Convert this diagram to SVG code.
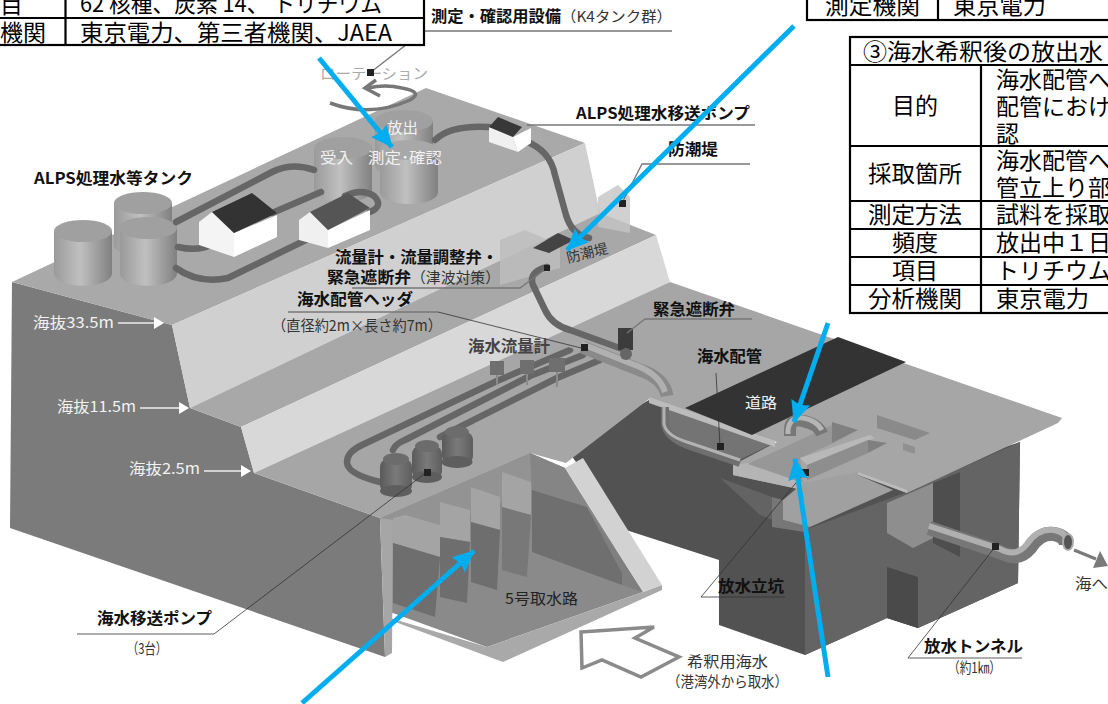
<svg xmlns="http://www.w3.org/2000/svg" width="1108" height="704" viewBox="0 0 1108 704">
<style>
text{font-family:"Noto Sans CJK JP","Noto Sans",sans-serif;fill:#111}
.b{font-size:16px;font-weight:700}
.r{font-size:15px;fill:#333}
.w{font-size:15px;fill:#f2f2f2}
.t{font-size:23px;fill:#000}
.m{text-anchor:middle}
.ln{stroke:#777;stroke-width:1.3;fill:none}
.ld{stroke:#333;stroke-width:.8;fill:none}
.wa{stroke:#eee;stroke-width:1.5;fill:none}
.tb{stroke:#000;stroke-width:2.2;fill:#fff}
.tl{stroke:#000;stroke-width:2.2;fill:none}
.pp{fill:none;stroke:#666;stroke-width:6.5;stroke-linecap:round;stroke-linejoin:round}
.big{fill:none;stroke:#777;stroke-width:14;stroke-linecap:butt}
.bigi{fill:none;stroke:#b0b0b0;stroke-width:6;stroke-linecap:butt}
.blue{stroke:#00aeef;stroke-width:5;fill:none}
.sq{fill:#222}
</style>
<defs>
<linearGradient id="cyl"><stop offset="0" stop-color="#9a9a9a"/><stop offset=".45" stop-color="#c0c0c0"/><stop offset="1" stop-color="#808080"/></linearGradient>
<linearGradient id="pump"><stop offset="0" stop-color="#5a5a5a"/><stop offset=".5" stop-color="#7a7a7a"/><stop offset="1" stop-color="#5e5e5e"/></linearGradient>
<marker id="ah" markerUnits="userSpaceOnUse" markerWidth="24" markerHeight="24" refX="21" refY="10" orient="auto"><path d="M0 0L22 10L0 20L3 10Z" fill="#00aeef"/></marker>
<marker id="wh" markerUnits="userSpaceOnUse" markerWidth="12" markerHeight="14" refX="9" refY="6" orient="auto"><path d="M0 0L10 6L0 12Z" fill="#fff"/></marker>
</defs>

<g id="shaft-block">
<polygon points="565,447 649,400 777,445 900,480 1020,442 1018,583 918,628 887,618 805,655 719,625 719,560 626,530" fill="#525252"/>
<polygon points="805,530 907,492 1020,442 1018,583 918,628 887,618 805,655" fill="#646464"/>
<polygon points="720,478 772,497 772,527 810,530 805,532 760,515" fill="#636363"/>
<polygon points="772,497 783,500 783,520 810,527 805,532 772,527" fill="#777"/>
<polygon points="665,405 770,445 735,462 668,435" fill="#747474"/>
</g>

<g id="terrain">
<polygon points="12,282 172,325 190,408 241,427 254,473 380,518 385,657 10,528" fill="#7b7b7b"/>
<polygon points="12,282 426,88 585,143 172,325" fill="#a9a9a9"/>
<polygon points="172,325 585,143 600,213 190,408" fill="#d0d0d0"/>
<polygon points="190,408 600,213 656,235 241,427" fill="#a8a8a8"/>
<polygon points="241,427 656,235 670,282 254,473" fill="#d8d8d8"/>
<polygon points="254,473 670,282 1062,418 1058,423 907,493 858,474 803,490 733,475 733,465 777,442 649,399 566,463 530,453 380,518" fill="#a6a6a6"/>
<polygon points="649,397 775,441 775,447 649,403" fill="#bcbcbc"/>
<polygon points="598,197 618,185 630,197 630,233 598,227" fill="#c4c4c4" opacity=".8"/>
<polygon points="500,240 525,230 560,245 560,268 500,285" fill="#bdbdbd" opacity=".85"/>
</g>

<g id="intake">
<polygon points="380,518 530,453 565,468 643,592 487,647 390,612" fill="#8a8a8a"/>
<polygon points="380,518 530,453 532,490 393,545" fill="#939393"/>
<polygon points="530,453 565,468 587,507 532,490" fill="#858585"/>
<polygon points="532,490 587,507 622,573 622,585 532,552" fill="#6f6f6f"/>
<polygon points="587,507 643,592 622,585 622,573" fill="#7f7f7f"/>
<polygon points="390,618 487,647 643,592 662,585 662,590 503,662 390,620" fill="#a9a9a9"/>
<polygon points="380,518 393,520 392,653 385,657" fill="#a6a6a6"/>
<polygon points="565,468 583,458 662,585 643,592" fill="#d2d2d2"/>
<polygon points="393,518 405,515 440,525 440,557 393,543" fill="#a4a4a4"/>
<polygon points="393,543 440,557 435,617 393,603" fill="#6e6e6e"/>
<polygon points="440,502 470,510 470,542 440,537" fill="#a4a4a4"/>
<polygon points="440,537 470,542 467,603 440,597" fill="#6e6e6e"/>
<polygon points="471,487 500,497 500,530 471,522" fill="#a4a4a4"/>
<polygon points="471,522 500,530 497,590 471,582" fill="#6e6e6e"/>
<polygon points="502,472 531,482 531,515 502,507" fill="#a4a4a4"/>
<polygon points="502,507 531,515 527,577 502,570" fill="#787878"/>
<text x="505" y="604" style="font-size:15px;fill:#222" textLength="73" lengthAdjust="spacingAndGlyphs">5号取水路</text>
</g>

<g id="shaft">
<polygon points="685,408 838,337 906,362 752,435" fill="#333"/>
<polygon points="733,465 748,463 803,483 803,490 733,475" fill="#b4b4b4"/>
<polygon points="748,464 832,425 832,443 858,432 800,458 803,483" fill="#979797"/>
<polygon points="832,422 858,430 832,443" fill="#808080"/>
<polygon points="800,458 870,435 875,438 807,465" fill="#b8b8b8"/>
<polygon points="807,465 868,440 868,453 807,480" fill="#8e8e8e"/>
<polygon points="868,440 887,443 868,453" fill="#808080"/>
<polygon points="877,415 930,433 915,440 877,428" fill="#8a8a8a"/>
<polygon points="903,443 915,447 915,454 903,450" fill="#909090"/>
<polygon points="858,472 907,490 907,493 858,475" fill="#bcbcbc"/>
<polygon points="803,483 858,472 858,475 893,490 810,527 783,520 783,500" fill="#a0a0a0"/>
<polygon points="887,503 917,490 933,483 933,538 913,548 887,533" fill="#8e8e8e"/>
<polygon points="933,483 960,472 960,557 933,543" fill="#4e4e4e"/>
<polygon points="887,567 918,577 918,628 887,618" fill="#4a4a4a"/>
<text class="w" x="745" y="408" textLength="32" lengthAdjust="spacingAndGlyphs">道路</text>
</g>

<g id="tanks">
<path d="M54 231V273C54 290 112 290 112 273V231Z" fill="url(#cyl)"/><ellipse cx="83" cy="231" rx="29" ry="11" fill="#a0a0a0"/>
<path d="M114 203V245C114 260 172 260 172 245V203Z" fill="url(#cyl)"/><ellipse cx="143" cy="203" rx="29" ry="11" fill="#a0a0a0"/>
<path d="M120 228V273C120 290 177 290 177 273V228Z" fill="url(#cyl)"/><ellipse cx="148" cy="228" rx="29" ry="11" fill="#a0a0a0"/>
<path d="M375 121V165C375 180 433 180 433 165V121Z" fill="url(#cyl)"/><ellipse cx="404" cy="121" rx="29" ry="11" fill="#a0a0a0"/>
<path d="M314 148V190C314 206 372 206 372 190V148Z" fill="url(#cyl)"/><ellipse cx="343" cy="148" rx="29" ry="11" fill="#a0a0a0"/>
<path d="M380 150V192C380 208 438 208 438 192V150Z" fill="url(#cyl)"/><ellipse cx="409" cy="150" rx="29" ry="10" fill="#a8a8a8"/>
<text class="w" x="387" y="133" textLength="31" lengthAdjust="spacingAndGlyphs">放出</text>
<text class="w" x="320" y="163" textLength="33" lengthAdjust="spacingAndGlyphs">受入</text>
<text class="w" x="368" y="163" textLength="74" lengthAdjust="spacingAndGlyphs">測定･確認</text>
</g>

<g id="pipes-upper">
<path class="pp" d="M176 222L272 172Q292 162 314 170"/>
<path class="pp" d="M178 247Q200 252 214 243"/>
<path class="pp" d="M272 213L321 192"/>
<path class="pp" d="M176 268Q198 284 228 278L312 237"/>
<path class="pp" d="M345 196Q362 188 374 196Q384 206 370 212"/>
<path class="pp" d="M435 140Q450 125 489 127"/>
<path class="pp" d="M525 141Q550 150 555 175L566 215Q572 235 589 238"/>
<path class="pp" d="M547 267Q528 272 533 285L545 310Q552 325 570 330L625 350"/>
</g>

<g id="houses">
<polygon points="199,222 212,212 234,233 234,257 199,245" fill="#f4f4f4"/>
<polygon points="234,233 277,215 277,237 234,257" fill="#fff"/>
<polygon points="212,212 252,193 277,213 234,233" fill="#333"/>
<polygon points="299,220 310,212 328,230 328,248 299,240" fill="#f0f0f0"/>
<polygon points="328,230 370,210 370,230 328,248" fill="#fff"/>
<polygon points="310,212 348,193 370,208 328,230" fill="#555"/>
<polygon points="489,127 513,137 518,152 489,142" fill="#f0f0f0"/>
<polygon points="513,137 531,128 531,143 518,152" fill="#fff"/>
<polygon points="489,127 498,117 522,127 513,137" fill="#383838"/>
<polygon points="533,248 558,233 574,240 549,253" fill="#444"/>
</g>

<g id="pumps">
<path class="pp" d="M380 482Q347 474 347 462Q347 452 362 445L497 381L570 350"/>
<path class="pp" d="M393 450Q395 444 405 440L530 376L583 355"/>
<path class="pp" d="M440 437L557 378L600 360"/>
<path d="M497 375V385M527 373V385M557 372V387" stroke="#8a8a8a" stroke-width="2"/>
<rect x="380" y="459" width="32" height="34" rx="8" fill="url(#pump)"/><ellipse cx="396" cy="459" rx="13" ry="6" fill="#6c6c6c"/><ellipse cx="396" cy="491" rx="16" ry="6" fill="#5e5e5e"/>
<rect x="412" y="446" width="30" height="33" rx="8" fill="url(#pump)"/><ellipse cx="427" cy="446" rx="12" ry="6" fill="#6c6c6c"/><ellipse cx="427" cy="477" rx="15" ry="6" fill="#5e5e5e"/>
<rect x="442" y="432" width="31" height="32" rx="8" fill="url(#pump)"/><ellipse cx="457" cy="432" rx="12" ry="6" fill="#6c6c6c"/><ellipse cx="457" cy="462" rx="15.500" ry="6" fill="#5e5e5e"/>
<rect x="490" y="361" width="14" height="14" fill="#6f6f6f"/><rect x="520" y="360" width="14" height="14" fill="#6f6f6f"/><rect x="549" y="358" width="16" height="14" fill="#6f6f6f"/>
<polygon points="563,345 572,340 592,347 585,353" fill="#a8a8a8"/>
<path d="M582 347L640 370Q664 378 667 396" class="big" style="stroke:#8a8a8a;stroke-width:13"/>
<path d="M582 344L640 367Q660 376 665 392" class="bigi"/>
<rect x="618" y="328" width="15" height="22" fill="#3c3c3c"/><circle cx="626" cy="354" r="6" fill="#666"/>
</g>

<g id="pipes-lower">
<path d="M665 407V424Q667 438 690 446L740 463" fill="none" stroke="#6f6f6f" stroke-width="8"/>
<path d="M664 407V424Q666 436 690 443L740 460" fill="none" stroke="#b2b2b2" stroke-width="3"/>
<path d="M790 436V430Q790 418 803 421Q818 424 822 434" fill="none" stroke="#777" stroke-width="12"/>
<path d="M788 434V430Q790 416 803 418Q816 420 822 430" fill="none" stroke="#b5b5b5" stroke-width="5"/>
<path class="big" d="M929 528L1000 552Q1018 562 1030 548Q1040 532 1054 534Q1066 536 1066 545"/>
<path class="bigi" d="M929 526L1000 549Q1016 558 1027 544Q1038 528 1054 530Q1066 532 1067 541"/>
<ellipse cx="1068" cy="542" rx="5" ry="8" fill="#555" stroke="#aaa" stroke-width="2"/>
<path d="M1074 550L1096 559" stroke="#7a7a7a" stroke-width="3"/><polygon points="1108,566 1093,568 1100,551" fill="#7a7a7a"/>
</g>

<g id="rotation">
<path d="M330 103Q370 118 410 100Q424 92 402 88Q385 84 368 88" fill="none" stroke="#777" stroke-width="3.500"/>
<path d="M376 80L365 88L380 96" fill="none" stroke="#777" stroke-width="3.500"/>
<text x="320" y="79" style="font-size:15px;fill:#aaa" textLength="108" lengthAdjust="spacingAndGlyphs">ローテーション</text>
</g>

<g id="sea-arrow">
<polygon points="581,632 654,627 635,638 679,657 641,677 602,660 582,668" fill="#fff" stroke="#8a8a8a" stroke-width="3.500"/>
</g>

<g id="leaders">
<path class="ln" d="M672 31H424L371 72"/>
<path class="ln" d="M755 125H527"/>
<path class="ln" d="M750 164H642L622 203"/>
<path class="ln" d="M352 288H520L547 268"/>
<path class="ln" d="M288 312H438"/><path class="ld" d="M438 312L585 349"/>
<path class="ln" d="M752 319H645L627 333"/>
<path class="ld" d="M716 373L720 446"/>
<path class="ld" d="M701 597H785M701 597L805 472"/>
<path class="ld" d="M908 658H1022M908 658L995 547"/>
<path class="ld" d="M77 634H214L427 472"/>
<path class="wa" d="M118 323H163" marker-end="url(#wh)"/>
<path class="wa" d="M140 408H188" marker-end="url(#wh)"/>
<path class="wa" d="M204 471H250" marker-end="url(#wh)"/>
<rect class="sq" x="367" y="69" width="7" height="7"/><rect class="sq" x="619" y="200" width="7" height="7"/><rect class="sq" x="544" y="265" width="6" height="6"/><rect class="sq" x="581" y="344" width="7" height="7"/><rect class="sq" x="717" y="443" width="7" height="7"/><rect class="sq" x="802" y="469" width="7" height="7"/><rect class="sq" x="992" y="543" width="7" height="7"/><rect class="sq" x="424" y="469" width="7" height="7"/>
</g>

<g id="labels">
<text class="b" x="431" y="22" textLength="130" lengthAdjust="spacingAndGlyphs">測定・確認用設備</text><text class="r" x="561" y="22" textLength="111" lengthAdjust="spacingAndGlyphs">（K4タンク群）</text>
<text class="b" x="34" y="184" textLength="159" lengthAdjust="spacingAndGlyphs">ALPS処理水等タンク</text>
<text class="b" x="576" y="119" textLength="174" lengthAdjust="spacingAndGlyphs">ALPS処理水移送ポンプ</text>
<text class="b" x="668" y="155" textLength="50" lengthAdjust="spacingAndGlyphs">防潮堤</text>
<text class="b" x="335" y="263" textLength="163" lengthAdjust="spacingAndGlyphs">流量計・流量調整弁・</text>
<text class="b" x="327" y="283" textLength="84" lengthAdjust="spacingAndGlyphs">緊急遮断弁</text><text class="r" x="411" y="283" textLength="89" lengthAdjust="spacingAndGlyphs">（津波対策）</text>
<text class="b" x="297" y="305" textLength="116" lengthAdjust="spacingAndGlyphs">海水配管ヘッダ</text>
<text class="r" x="272" y="331" textLength="170" lengthAdjust="spacingAndGlyphs">（直径約2m×長さ約7m）</text>
<text class="b" x="468" y="352" textLength="82" style="fill:#444" lengthAdjust="spacingAndGlyphs">海水流量計</text>
<text class="b" x="653" y="315" textLength="82" lengthAdjust="spacingAndGlyphs">緊急遮断弁</text>
<text class="b" x="697" y="362" textLength="65" lengthAdjust="spacingAndGlyphs">海水配管</text>
<text x="0" y="0" transform="translate(568,263) rotate(-14)" style="font-size:14px;fill:#333" textLength="42" lengthAdjust="spacingAndGlyphs">防潮堤</text>
<text class="b" x="718" y="592" textLength="66" lengthAdjust="spacingAndGlyphs">放水立坑</text>
<text class="b" x="924" y="652" textLength="99" lengthAdjust="spacingAndGlyphs">放水トンネル</text>
<text class="r" x="948" y="673" textLength="53" lengthAdjust="spacingAndGlyphs">（約1㎞）</text>
<text class="b" x="97" y="624" textLength="115" lengthAdjust="spacingAndGlyphs">海水移送ポンプ</text>
<text class="r" x="127" y="654" textLength="40" lengthAdjust="spacingAndGlyphs">（3台）</text>
<text class="r" x="687" y="667" textLength="81" lengthAdjust="spacingAndGlyphs">希釈用海水</text>
<text class="r" x="667" y="687" textLength="121" lengthAdjust="spacingAndGlyphs">（港湾外から取水）</text>
<text class="r" x="1075" y="589" textLength="33" lengthAdjust="spacingAndGlyphs">海へ</text>
<text class="w" x="33" y="328" textLength="81" lengthAdjust="spacingAndGlyphs">海抜33.5m</text>
<text class="w" x="57" y="412" textLength="79" lengthAdjust="spacingAndGlyphs">海抜11.5m</text>
<text class="w" x="129" y="474" textLength="71" lengthAdjust="spacingAndGlyphs">海抜2.5m</text>
</g>

<g id="table-1">
<rect class="tb" x="-5" y="-5" width="429" height="50"/>
<path class="tl" d="M-5 18H424M65.500 -5V45"/>
<text class="t" x="0" y="13">目</text>
<text class="t" x="80" y="12" textLength="302" lengthAdjust="spacingAndGlyphs">62 核種、炭素 14、 トリチウム</text>
<text class="t" x="0" y="41" textLength="46" lengthAdjust="spacingAndGlyphs">機関</text>
<text class="t" x="80" y="41" textLength="312" lengthAdjust="spacingAndGlyphs">東京電力、第三者機関、JAEA</text>
</g>

<g id="table-2">
<rect class="tb" x="807" y="-5" width="306" height="25"/>
<path class="tl" d="M938 -5V20"/>
<text class="t" x="825" y="14" textLength="95" lengthAdjust="spacingAndGlyphs">測定機関</text>
<text class="t" x="953" y="14" textLength="93" lengthAdjust="spacingAndGlyphs">東京電力</text>
</g>

<g id="table-3">
<rect class="tb" x="850" y="37" width="265" height="276"/>
<path class="tl" d="M850 65H1115M850 146H1115M850 201H1115M850 229H1115M850 257H1115M850 285H1115M981 65V313"/>
<text class="t" x="863" y="60" textLength="240" lengthAdjust="spacingAndGlyphs">③海水希釈後の放出水</text>
<text class="t m" x="915" y="114">目的</text>
<text class="t m" x="915" y="182" textLength="94" lengthAdjust="spacingAndGlyphs">採取箇所</text>
<text class="t m" x="915" y="223" textLength="94" lengthAdjust="spacingAndGlyphs">測定方法</text>
<text class="t m" x="915" y="251">頻度</text>
<text class="t m" x="915" y="279">項目</text>
<text class="t m" x="915" y="307" textLength="94" lengthAdjust="spacingAndGlyphs">分析機関</text>
<text class="t" x="996" y="88">海水配管へ</text>
<text class="t" x="996" y="115">配管におけ</text>
<text class="t" x="996" y="142">認</text>
<text class="t" x="996" y="169">海水配管へ</text>
<text class="t" x="996" y="196">管立上り部</text>
<text class="t" x="996" y="223">試料を採取</text>
<text class="t" x="996" y="251">放出中１日</text>
<text class="t" x="996" y="279">トリチウム</text>
<text class="t" x="996" y="307" textLength="93" lengthAdjust="spacingAndGlyphs">東京電力</text>
</g>

<g id="blue-arrows">
<path class="blue" d="M319 58L392 147" marker-end="url(#ah)"/>
<path class="blue" d="M794 26L567 250" marker-end="url(#ah)"/>
<path class="blue" d="M828 323L794 422" marker-end="url(#ah)"/>
<path class="blue" d="M828 677L795 459" marker-end="url(#ah)"/>
<path class="blue" d="M302 703L474 551" marker-end="url(#ah)"/>
</g>
</svg>
